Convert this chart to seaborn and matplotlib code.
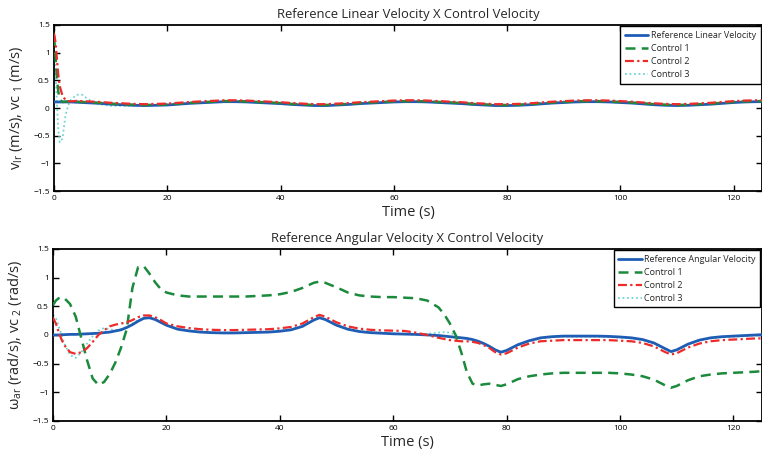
import matplotlib
matplotlib.use("Agg")
import matplotlib.pyplot as plt
import seaborn as sns
import pandas as pd

# ---------------- data: top panel (linear velocity) ----------------
t_lin = [0, 0.25, 0.5, 0.75, 1, 1.5, 2, 2.5, 3, 4, 5, 6, 7, 8,
         10, 12, 14, 16, 18, 20, 22, 24, 26, 28, 30, 32, 34, 36, 38, 40,
         42, 44, 46, 48, 50, 52, 54, 56, 58, 60, 62, 64, 66, 68, 70, 72,
         74, 76, 78, 80, 82, 84, 86, 88, 90, 92, 94, 96, 98, 100, 102, 104,
         106, 108, 110, 112, 114, 116, 118, 120, 122, 124, 125]

ref_lin = [0.11, 0.11, 0.11, 0.11, 0.11, 0.11, 0.11, 0.11, 0.11, 0.105, 0.10, 0.095, 0.09, 0.085,
           0.07, 0.06, 0.05, 0.045, 0.05, 0.055, 0.07, 0.085, 0.095, 0.105, 0.115, 0.115, 0.11, 0.10, 0.09, 0.08,
           0.065, 0.055, 0.045, 0.045, 0.055, 0.065, 0.08, 0.09, 0.10, 0.11, 0.115, 0.115, 0.11, 0.10, 0.09, 0.08,
           0.065, 0.055, 0.045, 0.045, 0.05, 0.06, 0.075, 0.09, 0.10, 0.11, 0.115, 0.115, 0.11, 0.10, 0.09, 0.075,
           0.06, 0.05, 0.045, 0.05, 0.06, 0.07, 0.085, 0.10, 0.11, 0.115, 0.115]

c1_lin = [1.3, 0.95, 0.55, 0.3, 0.15, 0.11, 0.115, 0.12, 0.12, 0.115, 0.11, 0.105, 0.10, 0.095,
          0.08, 0.07, 0.06, 0.055, 0.06, 0.065, 0.08, 0.095, 0.105, 0.115, 0.125, 0.125, 0.12, 0.11, 0.10, 0.09,
          0.075, 0.065, 0.055, 0.055, 0.065, 0.075, 0.09, 0.10, 0.11, 0.12, 0.125, 0.125, 0.12, 0.11, 0.10, 0.09,
          0.075, 0.065, 0.055, 0.055, 0.06, 0.07, 0.085, 0.10, 0.11, 0.12, 0.125, 0.125, 0.12, 0.11, 0.10, 0.085,
          0.07, 0.06, 0.055, 0.06, 0.07, 0.08, 0.095, 0.11, 0.12, 0.125, 0.125]

c2_lin = [1.35, 1.2, 0.9, 0.6, 0.4, 0.22, 0.15, 0.125, 0.12, 0.13, 0.125, 0.12, 0.115, 0.11,
          0.095, 0.085, 0.075, 0.07, 0.075, 0.08, 0.095, 0.11, 0.12, 0.13, 0.14, 0.14, 0.135, 0.125, 0.115, 0.105,
          0.09, 0.08, 0.07, 0.07, 0.08, 0.09, 0.105, 0.115, 0.125, 0.135, 0.14, 0.14, 0.135, 0.125, 0.115, 0.105,
          0.09, 0.08, 0.07, 0.07, 0.075, 0.085, 0.10, 0.115, 0.125, 0.135, 0.14, 0.14, 0.135, 0.125, 0.115, 0.10,
          0.085, 0.075, 0.07, 0.075, 0.085, 0.095, 0.11, 0.125, 0.135, 0.14, 0.14]

c3_lin = [1.2, 0.7, 0.1, -0.4, -0.62, -0.55, -0.15, 0.05, 0.15, 0.24, 0.24, 0.16, 0.10, 0.07,
          0.04, 0.04, 0.04, 0.04, 0.05, 0.055, 0.07, 0.085, 0.095, 0.105, 0.115, 0.115, 0.11, 0.10, 0.09, 0.08,
          0.065, 0.055, 0.045, 0.045, 0.055, 0.065, 0.08, 0.09, 0.10, 0.11, 0.115, 0.115, 0.11, 0.10, 0.09, 0.08,
          0.065, 0.055, 0.045, 0.045, 0.05, 0.06, 0.075, 0.09, 0.10, 0.11, 0.115, 0.115, 0.11, 0.10, 0.09, 0.075,
          0.06, 0.05, 0.045, 0.05, 0.06, 0.07, 0.085, 0.10, 0.11, 0.115, 0.115]

# ---------------- data: bottom panel (angular velocity) ----------------
t_ang = [0, 0.5, 1, 1.5, 2, 3, 4, 5, 6, 7, 8, 9, 10, 11, 12, 13, 14, 15, 16, 17, 18, 19, 20,
         22, 24, 26, 28, 30, 32, 34, 36, 38, 40, 42, 44, 46, 47, 48, 50, 52, 54, 56, 58, 60,
         62, 64, 66, 68, 69, 70, 71, 72, 73, 74, 75, 76, 77, 78, 79, 80, 82, 84, 86, 88, 90,
         92, 94, 96, 98, 100, 102, 104, 106, 108, 109, 110, 112, 114, 116, 118, 120, 122, 124, 125]

ref_ang = [0.0, 0.0, 0.0, 0.005, 0.005, 0.01, 0.01, 0.015, 0.02, 0.025, 0.03, 0.04, 0.05, 0.07, 0.09,
           0.13, 0.18, 0.24, 0.29, 0.30, 0.27, 0.22, 0.17,
           0.10, 0.07, 0.05, 0.04, 0.035, 0.035, 0.04, 0.045, 0.05, 0.065, 0.09, 0.15, 0.26, 0.30, 0.27,
           0.17, 0.10, 0.06, 0.04, 0.03, 0.02,
           0.015, 0.01, 0.0, -0.01, -0.02, -0.03, -0.04, -0.05, -0.06, -0.08, -0.11, -0.15, -0.20, -0.26,
           -0.30, -0.27, -0.17, -0.10, -0.05, -0.03, -0.02,
           -0.02, -0.02, -0.02, -0.025, -0.035, -0.05, -0.08, -0.14, -0.24, -0.29, -0.26, -0.16, -0.09,
           -0.05, -0.03, -0.02, -0.01, 0.0, 0.005]

c1_ang = [0.52, 0.60, 0.64, 0.66, 0.64, 0.54, 0.32, -0.06, -0.44, -0.76, -0.87, -0.82, -0.68, -0.48, -0.22,
          0.10, 0.82, 1.18, 1.20, 1.07, 0.92, 0.80, 0.74,
          0.69, 0.67, 0.67, 0.67, 0.67, 0.67, 0.67, 0.68, 0.69, 0.71, 0.75, 0.82, 0.91, 0.93, 0.91,
          0.83, 0.74, 0.69, 0.67, 0.66, 0.66,
          0.65, 0.64, 0.60, 0.48, 0.36, 0.20, 0.0, -0.30, -0.65, -0.85, -0.88, -0.86, -0.85, -0.87,
          -0.89, -0.86, -0.77, -0.72, -0.69, -0.67, -0.66,
          -0.66, -0.66, -0.66, -0.66, -0.67, -0.69, -0.72, -0.78, -0.88, -0.92, -0.89, -0.79, -0.72,
          -0.69, -0.67, -0.66, -0.65, -0.64, -0.63]

c2_ang = [0.30, 0.20, 0.05, -0.08, -0.18, -0.30, -0.33, -0.30, -0.23, -0.12, 0.0, 0.08, 0.15, 0.18, 0.20,
          0.22, 0.26, 0.31, 0.34, 0.34, 0.31, 0.26, 0.20,
          0.15, 0.12, 0.10, 0.09, 0.085, 0.085, 0.09, 0.095, 0.10, 0.115, 0.14, 0.20, 0.31, 0.35, 0.32,
          0.22, 0.15, 0.11, 0.09, 0.08, 0.075,
          0.07, 0.04, 0.0, -0.05, -0.07, -0.09, -0.10, -0.11, -0.11, -0.12, -0.14, -0.18, -0.23, -0.30,
          -0.34, -0.32, -0.22, -0.15, -0.11, -0.10, -0.09,
          -0.09, -0.09, -0.09, -0.09, -0.10, -0.11, -0.14, -0.20, -0.30, -0.34, -0.32, -0.22, -0.15,
          -0.11, -0.09, -0.08, -0.07, -0.06, -0.06]

c3_ang = [0.35, 0.30, 0.15, 0.0, -0.15, -0.35, -0.40, -0.30, -0.15, -0.02, 0.08, 0.12, 0.10, 0.08, 0.10,
          0.14, 0.20, 0.26, 0.30, 0.31, 0.28, 0.23, 0.18,
          0.11, 0.075, 0.055, 0.045, 0.04, 0.04, 0.045, 0.05, 0.055, 0.07, 0.095, 0.16, 0.27, 0.31, 0.28,
          0.18, 0.11, 0.07, 0.05, 0.04, 0.03,
          0.02, 0.0, 0.02, 0.04, 0.05, 0.04, 0.0, -0.05, -0.07, -0.09, -0.12, -0.16, -0.21, -0.27,
          -0.31, -0.28, -0.18, -0.11, -0.06, -0.04, -0.03,
          -0.03, -0.03, -0.03, -0.035, -0.045, -0.06, -0.09, -0.15, -0.25, -0.30, -0.27, -0.17, -0.10,
          -0.06, -0.04, -0.03, -0.02, -0.01, -0.005]

x_ticks = [0, 20, 40, 60, 80, 100, 120]
y_ticks = [-1.5, -1, -0.5, 0, 0.5, 1, 1.5]

# ---------------- styling ----------------
sns.set_theme(style="white")
plt.rcParams["font.family"] = ["Open Sans", "DejaVu Sans"]
plt.rcParams["mathtext.default"] = "regular"

BLUE = "#1f5db5"
GREEN = "#1b8a3c"
RED = "#ee2a2a"
CYAN = "#6fd6d2"

fig = plt.figure(figsize=(7.62, 4.54), dpi=100)
ax1 = fig.add_axes([0.0709, 0.579, 0.929, 0.366])
ax2 = fig.add_axes([0.0696, 0.0727, 0.930, 0.379])

df_lin = pd.DataFrame({"t": t_lin, "ref": ref_lin, "c1": c1_lin, "c2": c2_lin, "c3": c3_lin})
df_ang = pd.DataFrame({"t": t_ang, "ref": ref_ang, "c1": c1_ang, "c2": c2_ang, "c3": c3_ang})


def draw(ax, df, ref_label, title, ylabel):
    sns.lineplot(data=df, x="t", y="ref", ax=ax, color=BLUE, lw=2.0, label=ref_label, zorder=3)
    sns.lineplot(data=df, x="t", y="c1", ax=ax, color=GREEN, lw=1.8, linestyle=(0, (4, 2.5)),
                 label="Control 1", zorder=4)
    sns.lineplot(data=df, x="t", y="c2", ax=ax, color=RED, lw=1.6, linestyle=(0, (4, 1.5, 1, 1.5)),
                 label="Control 2", zorder=5)
    sns.lineplot(data=df, x="t", y="c3", ax=ax, color=CYAN, lw=1.3, linestyle=(0, (1, 1.5)),
                 label="Control 3", zorder=2)
    ax.set_xlim(0, 125)
    ax.set_ylim(-1.5, 1.5)
    ax.set_xticks(x_ticks)
    ax.set_xticklabels([str(v) for v in x_ticks])
    ax.set_yticks(y_ticks)
    ax.set_yticklabels(["\u22121.5", "\u22121", "\u22120.5", "0", "0.5", "1", "1.5"])
    ax.tick_params(direction="in", length=4, width=1.0, labelsize=6, colors="black",
                   top=True, right=True, bottom=True, left=True, pad=3)
    for s in ax.spines.values():
        s.set_color("black")
        s.set_linewidth(1.3)
    ax.set_title(title, fontsize=9.4, pad=5)
    ax.set_xlabel("Time (s)", fontsize=10.5, labelpad=2)
    ax.set_ylabel(ylabel, fontsize=10.5, labelpad=6)
    leg = ax.legend(loc="upper right", bbox_to_anchor=(1.0, 1.0), fontsize=6.5, frameon=True,
                    fancybox=False, edgecolor="black", framealpha=1, borderaxespad=0.15,
                    handlelength=2.6, labelspacing=0.45, borderpad=0.5, handletextpad=0.3)
    leg.get_frame().set_linewidth(1.0)
    ax.grid(False)


draw(ax1, df_lin, "Reference Linear Velocity", "Reference Linear Velocity X Control Velocity",
     r"v$_{lr}$ (m/s), vc$_{\ 1}$ (m/s)")
draw(ax2, df_ang, "Reference Angular Velocity", "Reference Angular Velocity X Control Velocity",
     r"$\omega_{ar}$ (rad/s), vc$_{\ 2}$ (rad/s)")

fig.savefig("out.png", dpi=100)
